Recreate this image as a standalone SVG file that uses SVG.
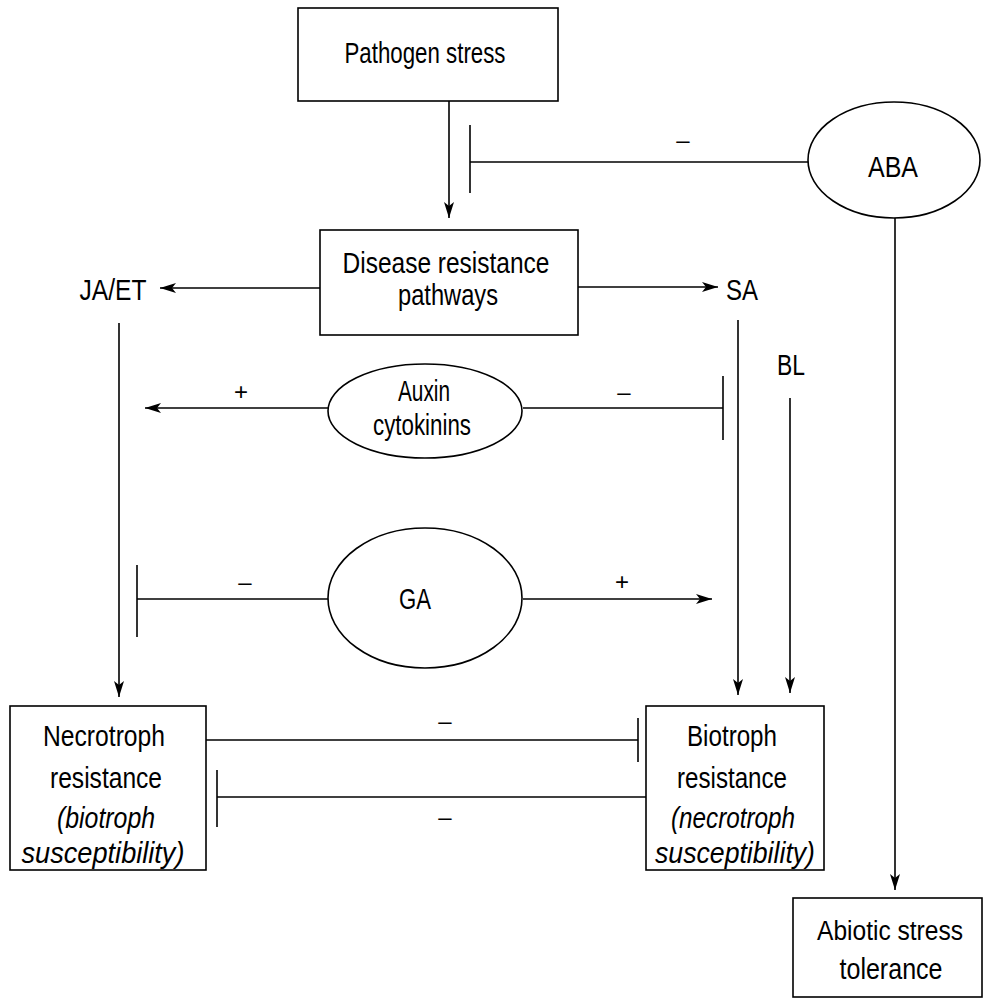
<svg xmlns="http://www.w3.org/2000/svg" width="983" height="998" viewBox="0 0 983 998">
<defs>
<marker id="arr" viewBox="0 0 16 10" refX="16" refY="5" markerWidth="16" markerHeight="10" markerUnits="userSpaceOnUse" orient="auto">
<path d="M0,0 L16,5 L0,10 L4,5 Z" fill="#000"/>
</marker>
</defs>
<style>
.box{fill:#fff;stroke:#000;stroke-width:1.6}
.ell{fill:#fff;stroke:#000;stroke-width:1.6}
.ln{fill:none;stroke:#000;stroke-width:1.6}
.bar{fill:none;stroke:#000;stroke-width:1.6}
text{font-family:"Liberation Sans",Arial,sans-serif;font-size:30px;fill:#000;text-anchor:middle}
.it{font-style:italic}
.sg{font-size:24px}
.sm{font-size:27px}
</style>
<rect width="983" height="998" fill="#fff"/>
<g id="connectors">
<line class="ln" x1="449" y1="101" x2="449" y2="218" marker-end="url(#arr)"/>
<line class="ln" x1="808" y1="162" x2="470" y2="162"/>
<line class="bar" x1="470" y1="125" x2="470" y2="193"/>
<text class="sg" x="683" y="148">–</text>
<line class="ln" x1="895" y1="218" x2="895" y2="890" marker-end="url(#arr)"/>
<line class="ln" x1="320" y1="288" x2="160" y2="288" marker-end="url(#arr)"/>
<line class="ln" x1="578" y1="287" x2="718" y2="287" marker-end="url(#arr)"/>
<line class="ln" x1="119" y1="323" x2="119" y2="697" marker-end="url(#arr)"/>
<line class="ln" x1="738" y1="320" x2="738" y2="695" marker-end="url(#arr)"/>
<line class="ln" x1="790" y1="398" x2="790" y2="693" marker-end="url(#arr)"/>
<line class="ln" x1="328" y1="408" x2="145" y2="408" marker-end="url(#arr)"/>
<text class="sg" x="241" y="400">+</text>
<line class="ln" x1="523" y1="408" x2="723" y2="408"/>
<line class="bar" x1="723" y1="376" x2="723" y2="440"/>
<text class="sg" x="624" y="400">–</text>
<line class="ln" x1="328" y1="599" x2="137" y2="599"/>
<line class="bar" x1="137" y1="565" x2="137" y2="637"/>
<text class="sg" x="245" y="590">–</text>
<line class="ln" x1="523" y1="599" x2="712" y2="599" marker-end="url(#arr)"/>
<text class="sg" x="622" y="590">+</text>
<line class="ln" x1="206" y1="740" x2="638" y2="740"/>
<line class="bar" x1="638" y1="718" x2="638" y2="762"/>
<text class="sg" x="445" y="729">–</text>
<line class="ln" x1="646" y1="797" x2="217" y2="797"/>
<line class="bar" x1="217" y1="770" x2="217" y2="827"/>
<text class="sg" x="445" y="825">–</text>
</g>
<g id="pathogen">
<rect class="box" x="298" y="8" width="260" height="93"/>
<text x="425" y="63" textLength="161" lengthAdjust="spacingAndGlyphs">Pathogen stress</text>
</g>
<g id="aba">
<ellipse class="ell" cx="894" cy="160" rx="86" ry="58"/>
<text x="893" y="177" textLength="50" lengthAdjust="spacingAndGlyphs">ABA</text>
</g>
<g id="disease">
<rect class="box" x="320" y="230" width="258" height="105"/>
<text x="446" y="273" textLength="207" lengthAdjust="spacingAndGlyphs">Disease resistance</text>
<text x="448" y="305" textLength="100" lengthAdjust="spacingAndGlyphs">pathways</text>
</g>
<g id="jaet">
<text x="113" y="300" textLength="67" lengthAdjust="spacingAndGlyphs">JA/ET</text>
</g>
<g id="sa">
<text x="742" y="300" textLength="32" lengthAdjust="spacingAndGlyphs">SA</text>
</g>
<g id="bl">
<text x="791" y="375" textLength="28" lengthAdjust="spacingAndGlyphs">BL</text>
</g>
<g id="auxin">
<ellipse class="ell" cx="425" cy="411" rx="97" ry="47"/>
<text x="424" y="401" textLength="52" lengthAdjust="spacingAndGlyphs">Auxin</text>
<text x="422" y="435" textLength="98" lengthAdjust="spacingAndGlyphs">cytokinins</text>
</g>
<g id="ga">
<ellipse class="ell" cx="425" cy="598" rx="97" ry="70"/>
<text x="415" y="609" textLength="32" lengthAdjust="spacingAndGlyphs">GA</text>
</g>
<g id="necrotroph">
<rect class="box" x="10" y="706" width="196" height="164"/>
<text x="104" y="746" textLength="122" lengthAdjust="spacingAndGlyphs">Necrotroph</text>
<text x="106" y="788" textLength="112" lengthAdjust="spacingAndGlyphs">resistance</text>
<text class="it" x="106" y="828" textLength="98" lengthAdjust="spacingAndGlyphs">(biotroph</text>
<text class="it" x="103" y="863" textLength="163" lengthAdjust="spacingAndGlyphs">susceptibility)</text>
</g>
<g id="biotroph">
<rect class="box" x="646" y="706" width="178" height="164"/>
<text x="732" y="746" textLength="90" lengthAdjust="spacingAndGlyphs">Biotroph</text>
<text x="732" y="788" textLength="110" lengthAdjust="spacingAndGlyphs">resistance</text>
<text class="it" x="733" y="828" textLength="124" lengthAdjust="spacingAndGlyphs">(necrotroph</text>
<text class="it" x="735" y="863" textLength="160" lengthAdjust="spacingAndGlyphs">susceptibility)</text>
</g>
<g id="abiotic">
<rect class="box" x="793" y="898" width="189" height="99"/>
<text class="sm" x="890" y="940" textLength="146" lengthAdjust="spacingAndGlyphs">Abiotic stress</text>
<text x="891" y="979" textLength="103" lengthAdjust="spacingAndGlyphs">tolerance</text>
</g>
</svg>
